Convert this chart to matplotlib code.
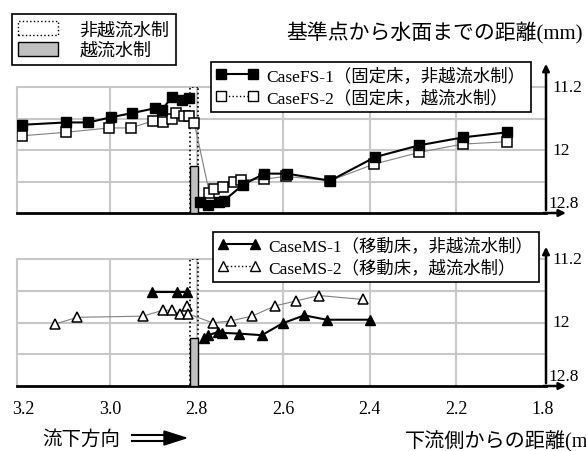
import numpy as np
import matplotlib
matplotlib.use('Agg')
import matplotlib.pyplot as plt
from matplotlib.lines import Line2D
from matplotlib.patches import Patch, Rectangle, Polygon

# --- data (x: distance from downstream end [m], y: distance to water surface) ---
fs1_up_x = [3.204, 3.102, 3.050, 2.998, 2.948, 2.896, 2.880, 2.857, 2.834, 2.817]
fs1_up_y = [11.68, 11.65, 11.65, 11.585, 11.53, 11.47, 11.49, 11.33, 11.36, 11.34]
fs1_dn_x = [2.791, 2.773, 2.748, 2.737, 2.692, 2.643, 2.591, 2.491, 2.387, 2.285, 2.184, 2.082]
fs1_dn_y = [12.66, 12.70, 12.66, 12.645, 12.44, 12.30, 12.30, 12.39, 12.09, 11.94, 11.84, 11.775]

fs2_x = [3.204, 3.102, 3.002, 2.952, 2.900, 2.878, 2.857, 2.847, 2.830, 2.817, 2.805,
         2.770, 2.760, 2.738, 2.713, 2.696, 2.643, 2.594, 2.491, 2.390, 2.285, 2.185, 2.083]
fs2_y = [11.82, 11.775, 11.72, 11.72, 11.63, 11.65, 11.61, 11.53, 11.565, 11.565, 11.66,
         12.55, 12.49, 12.475, 12.40, 12.38, 12.37, 12.335, 12.39, 12.18, 12.03, 11.925, 11.895]

ms1_up_x = [2.904, 2.844, 2.823]
ms1_up_y = [11.62, 11.62, 11.62]
ms1_dn_x = [2.783, 2.773, 2.750, 2.742, 2.701, 2.649, 2.601, 2.551, 2.499, 2.399]
ms1_dn_y = [12.19, 12.16, 12.12, 12.13, 12.14, 12.16, 12.01, 11.91, 11.965, 11.965]

ms2_x = [3.127, 3.076, 2.924, 2.877, 2.857, 2.838, 2.823, 2.819, 2.763, 2.721, 2.672, 2.618, 2.571, 2.517, 2.415]
ms2_y = [12.02, 11.935, 11.92, 11.845, 11.845, 11.89, 11.79, 11.89, 12.005, 11.98, 11.92, 11.79, 11.73, 11.66, 11.71]

# groyne (水制) position and crest
weir_lo, weir_hi = 2.796, 2.815
weir_top = 12.2

x_ticks = [3.2, 3.0, 2.8, 2.6, 2.4, 2.2, 2.0]
x_ticklabels = ['3.2', '3.0', '2.8', '2.6', '2.4', '2.2', '1.8']
x_grid = [3.0, 2.8, 2.6, 2.4, 2.2]
y_grid = [11.2, 11.6, 12.0, 12.4]
y_ticks = [11.2, 12.0, 12.8]
y_ticklabels = ['11.2', '12', '12.8']

labels_fs = ['CaseFS-1（固定床，非越流水制）', 'CaseFS-2（固定床，越流水制）']
labels_ms = ['CaseMS-1（移動床，非越流水制）', 'CaseMS-2（移動床，越流水制）']

W, H = 586, 452
def fx(px): return px / W
def fy(py): return 1 - py / H

MIX = ['Liberation Serif', 'Noto Sans CJK JP']
JP = ['Noto Sans CJK JP', 'Liberation Serif']
plt.rcParams['font.family'] = MIX
GRID = '#c8c8c8'
BAR = '#c0c0c0'

fig = plt.figure(figsize=(W / 100, H / 100), dpi=100)
ax_top = fig.add_axes([fx(17), fy(214), fx(546) - fx(17), fy(88) - fy(214)])
ax_bot = fig.add_axes([fx(17), fy(387), fx(546) - fx(17), fy(260) - fy(387)])


def setup(ax, arrow_len):
    ax.set_xlim(3.215, 1.992)
    ax.set_ylim(12.8, 11.2)
    ax.set_xticks(x_ticks)
    ax.set_xticklabels(x_ticklabels)
    ax.set_yticks([])
    for v in y_grid:
        ax.axhline(v, color=GRID, lw=1.5, zorder=0, clip_on=False)
    for v in x_grid:
        ax.axvline(v, color=GRID, lw=1.5, zorder=0)
    ax.spines['top'].set_visible(False)
    ax.spines['right'].set_visible(False)
    ax.spines['left'].set_color(GRID)
    ax.spines['left'].set_linewidth(1.5)
    ax.spines['bottom'].set_linewidth(2)
    ax.tick_params(axis='x', length=0, pad=10, labelsize=13)
    # axis arrows
    ax.annotate('', xy=(1, 1 + arrow_len), xytext=(1, 0), xycoords='axes fraction',
                arrowprops=dict(arrowstyle='-|>', color='black', lw=1.8, mutation_scale=10),
                annotation_clip=False)
    ax.annotate('', xy=(1.043, 0), xytext=(0.99, 0), xycoords='axes fraction',
                arrowprops=dict(arrowstyle='-|>', color='black', lw=1.8, mutation_scale=10),
                annotation_clip=False)
    tr = ax.get_yaxis_transform()
    for v, s in zip(y_ticks, y_ticklabels):
        if v == 12.8:
            ax.annotate(s, xy=(1, v), xycoords=tr, xytext=(2, 4), textcoords='offset points',
                        va='baseline', ha='left', fontsize=12.5)
        else:
            ax.annotate(s, xy=(1, v), xycoords=tr, xytext=(5, 0), textcoords='offset points',
                        va='center', ha='left', fontsize=12.5)
    # groyne
    ax.add_patch(Rectangle((weir_lo, 11.2), weir_hi - weir_lo, 1.6, fill=False,
                           ls=':', lw=1.2, ec='black', zorder=3))
    ax.add_patch(Rectangle((weir_lo, weir_top), weir_hi - weir_lo, 12.8 - weir_top,
                           fc=BAR, ec='black', lw=1, zorder=3))


setup(ax_top, 0.206)
setup(ax_bot, 0.118)
ax_top.tick_params(axis='x', labelbottom=False)

sq = dict(marker='s', ms=6.5)
ax_top.plot(fs2_x, fs2_y, color='#808080', lw=0.8, mfc='white', mec='black', mew=1.1, zorder=4, **sq)
ax_top.plot(fs1_up_x, fs1_up_y, color='black', lw=1.5, mfc='black', mec='black', zorder=5, **sq)
ax_top.plot(fs1_dn_x, fs1_dn_y, color='black', lw=1.5, mfc='black', mec='black', zorder=5, **sq)

tri = dict(marker='^', ms=7.5)
ax_bot.plot(ms2_x, ms2_y, color='#808080', lw=0.8, mfc='white', mec='black', mew=1.1, zorder=4, **tri)
ax_bot.plot(ms1_up_x, ms1_up_y, color='black', lw=1.5, mfc='black', mec='black', zorder=5, **tri)
ax_bot.plot(ms1_dn_x, ms1_dn_y, color='black', lw=1.5, mfc='black', mec='black', zorder=5, **tri)

# legends
leg_kw = dict(frameon=True, fancybox=False, edgecolor='black', framealpha=1,
              borderaxespad=0, borderpad=0.3, labelspacing=0.3, handlelength=2.4,
              handletextpad=0.5, numpoints=2, prop={'family': MIX, 'size': 12.5})

h_fs = [Line2D([], [], color='black', lw=1.5, marker='s', ms=6.5, mfc='black', mec='black'),
        Line2D([], [], color='black', lw=1, ls=':', marker='s', ms=6.5, mfc='white', mec='black')]
lg = fig.legend(h_fs, labels_fs, loc='upper left', bbox_to_anchor=(fx(211), fy(63)), **leg_kw)
lg.get_frame().set_linewidth(1.2)

h_ms = [Line2D([], [], color='black', lw=1.5, marker='^', ms=7.5, mfc='black', mec='black'),
        Line2D([], [], color='black', lw=1, ls=':', marker='^', ms=7.5, mfc='white', mec='black')]
lg = fig.legend(h_ms, labels_ms, loc='upper left', bbox_to_anchor=(fx(213), fy(233)), **leg_kw)
lg.get_frame().set_linewidth(1.2)

h_w = [Patch(fc='white', ec='black', ls=':', lw=1),
       Patch(fc=BAR, ec='black', lw=1)]
lg = fig.legend(h_w, ['非越流水制', '越流水制'], loc='upper left', bbox_to_anchor=(fx(12), fy(15)),
                frameon=True, fancybox=False, edgecolor='black', framealpha=1, borderaxespad=0,
                borderpad=0.35, labelspacing=0.15, handlelength=2.2, handleheight=0.8,
                handletextpad=1.2, prop={'family': JP, 'size': 13})
lg.get_frame().set_linewidth(1.2)

# titles / labels
fig.text(fx(583), fy(33), '基準点から水面までの距離(mm)', ha='right', va='center',
         fontsize=15, family=MIX)
fig.text(fx(405), fy(442), '下流側からの距離(m)', ha='left', va='center', fontsize=14.5, family=MIX)
fig.text(fx(42), fy(439), '流下方向', ha='left', va='center', fontsize=14, family=JP)

# flow direction arrow
for yy in (436, 442):
    fig.add_artist(Line2D([fx(132), fx(166)], [fy(yy), fy(yy)], color='black', lw=1.5))
fig.add_artist(Polygon([[fx(164), fy(432)], [fx(186), fy(439)], [fx(164), fy(446)]],
                       closed=True, fc='black', ec='black'))

fig.savefig('out.png', dpi=100)
